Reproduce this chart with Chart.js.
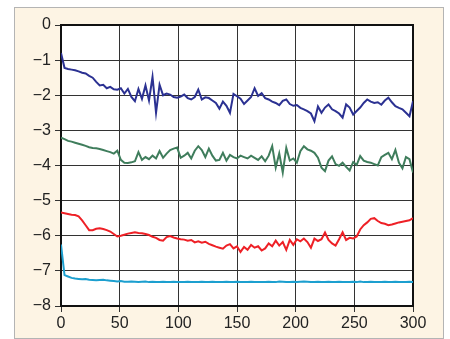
<!DOCTYPE html>
<html>
<head>
<meta charset="utf-8">
<script src="https://cdn.jsdelivr.net/npm/chart.js@4.4.0/dist/chart.umd.min.js"></script>
<style>
  html, body { margin: 0; padding: 0; background: #fff; }
  #panel { position: absolute; left: 14px; top: 7px; width: 430px; height: 332px;
           background: #fdf4e4; border: 1px solid #b4b4b4; box-sizing: border-box; }
  #chart { position: absolute; left: 0; top: 0; }
</style>
</head>
<body>
<div id="panel"></div>
<canvas id="chart" width="450" height="339"></canvas>
<script>
// x positions, every 3 units from 0 to 300
const xs = [];
for (let x = 0; x <= 300; x += 3) xs.push(x);

const yTicks = [0, -1, -2, -3, -4, -5, -6, -7, -8];
const xTicks = [0, 50, 100, 150, 200, 250, 300];

// values
const navySeries = [
  -0.80, -1.22, -1.25, -1.27, -1.29, -1.32, -1.36, -1.38, -1.45, -1.50,
  -1.62, -1.72, -1.70, -1.80, -1.76, -1.83, -1.84, -1.80, -1.95, -1.82,
  -2.05, -2.17, -1.82, -2.10, -1.72, -2.15, -1.48, -2.50, -1.70, -2.00,
  -1.95, -1.98, -2.05, -2.07, -2.04, -1.98, -2.08, -2.12, -2.05, -1.84,
  -2.12, -2.06, -2.08, -2.15, -2.22, -2.38, -2.18, -2.30, -2.50, -1.96,
  -2.03, -2.10, -2.25, -2.15, -2.05, -1.80, -2.02, -1.94, -2.08, -2.12,
  -2.18, -2.22, -2.28, -2.16, -2.12, -2.25, -2.30, -2.28, -2.36, -2.40,
  -2.45, -2.52, -2.74, -2.32, -2.50, -2.35, -2.26, -2.40, -2.45, -2.52,
  -2.64, -2.26, -2.35, -2.55, -2.45, -2.35, -2.22, -2.12, -2.18, -2.22,
  -2.20, -2.27, -2.15, -2.07, -2.20, -2.31, -2.36, -2.40, -2.50, -2.60,
  -2.17
];
const greenSeries = [
  -3.21, -3.25, -3.30, -3.32, -3.35, -3.38, -3.41, -3.44, -3.48, -3.50,
  -3.51, -3.53, -3.56, -3.59, -3.62, -3.66, -3.58, -3.84, -3.92, -3.93,
  -3.91, -3.88, -3.62, -3.84, -3.76, -3.82, -3.72, -3.80, -3.59, -3.78,
  -3.66, -3.56, -3.52, -3.49, -3.78, -3.72, -3.64, -3.80, -3.58, -3.45,
  -3.56, -3.76, -3.52, -3.72, -3.86, -3.84, -3.64, -3.86, -3.70, -3.76,
  -3.80, -3.72, -3.76, -3.80, -3.72, -3.78, -3.84, -3.74, -3.88, -3.72,
  -3.45, -4.06, -3.66, -4.20, -3.50, -3.86, -3.80, -3.92, -3.59, -3.45,
  -3.54, -3.58, -3.64, -3.78, -4.06, -4.16, -3.86, -3.74, -3.96, -4.01,
  -3.92, -4.04, -4.14, -3.90, -3.98, -3.73, -3.86, -3.90, -3.92, -3.96,
  -4.00, -3.76, -3.70, -3.64, -3.82, -3.56, -3.92, -4.08, -3.76, -3.82,
  -4.20
];
const redSeries = [
  -5.34, -5.36, -5.38, -5.40, -5.41, -5.45, -5.56, -5.70, -5.84, -5.84,
  -5.80, -5.79, -5.81, -5.84, -5.88, -5.95, -6.02, -6.00, -5.97, -5.94,
  -5.92, -5.90, -5.92, -5.93, -5.95, -5.98, -6.03, -6.06, -6.12, -6.14,
  -6.04, -6.01, -6.05, -6.08, -6.10, -6.11, -6.14, -6.12, -6.19, -6.16,
  -6.20, -6.17, -6.23, -6.27, -6.31, -6.34, -6.37, -6.28, -6.24, -6.36,
  -6.30, -6.46, -6.32, -6.40, -6.26, -6.34, -6.30, -6.42, -6.36, -6.22,
  -6.30, -6.14, -6.28, -6.18, -6.40, -6.12, -6.26, -6.10, -6.16, -6.08,
  -6.18, -6.34, -6.08, -6.15, -6.10, -5.91, -6.12, -6.22, -6.28, -6.10,
  -5.90, -6.12, -6.06, -6.08, -6.02, -5.82, -5.70, -5.62, -5.52, -5.50,
  -5.58, -5.64, -5.66, -5.70, -5.68, -5.65, -5.62, -5.60, -5.58, -5.56,
  -5.50
];
const cyanSeries = [
  -6.25, -7.12, -7.16, -7.20, -7.22, -7.23, -7.24, -7.23, -7.25, -7.26,
  -7.27, -7.26, -7.25, -7.27, -7.28, -7.29, -7.30, -7.29, -7.31, -7.31,
  -7.30, -7.31, -7.32, -7.31, -7.30, -7.32, -7.31, -7.32, -7.32, -7.31,
  -7.32, -7.32, -7.31, -7.32, -7.32, -7.32, -7.31, -7.32, -7.32, -7.32,
  -7.31, -7.32, -7.32, -7.31, -7.32, -7.32, -7.32, -7.31, -7.32, -7.32,
  -7.31, -7.32, -7.32, -7.32, -7.31, -7.32, -7.32, -7.32, -7.32, -7.31,
  -7.32, -7.32, -7.30, -7.31, -7.32, -7.32, -7.31, -7.32, -7.31, -7.30,
  -7.31, -7.32, -7.32, -7.31, -7.32, -7.32, -7.31, -7.32, -7.32, -7.31,
  -7.32, -7.32, -7.32, -7.31, -7.32, -7.30, -7.32, -7.32, -7.31, -7.32,
  -7.32, -7.32, -7.31, -7.32, -7.32, -7.31, -7.32, -7.32, -7.32, -7.31,
  -7.32
];

const toPoints = ys => xs.map((x, i) => ({ x: x, y: ys[i] }));

const lineStyle = color => ({
  borderColor: color,
  borderWidth: 2,
  pointRadius: 0,
  tension: 0,
  fill: false
});

// white plot area + dark frame
const plotFrame = {
  id: 'plotFrame',
  beforeDraw(chart) {
    const { ctx, chartArea: a } = chart;
    ctx.save();
    ctx.fillStyle = '#fff';
    ctx.fillRect(a.left, a.top, a.right - a.left, a.bottom - a.top);
    ctx.restore();
  },
  beforeDatasetsDraw(chart) {
    const { ctx, chartArea: a } = chart;
    ctx.save();
    ctx.strokeStyle = '#111';
    ctx.lineWidth = 2;
    ctx.strokeRect(a.left, a.top, a.right - a.left, a.bottom - a.top);
    ctx.restore();
  }
};

const fontFamily = "'Liberation Sans Narrow', 'Liberation Sans', Arial, sans-serif";
const minus = v => String(v).replace('-', '\u2212');

new Chart(document.getElementById('chart').getContext('2d'), {
  type: 'line',
  data: {
    datasets: [
      { data: toPoints(navySeries), ...lineStyle('#2b3192') },
      { data: toPoints(greenSeries), ...lineStyle('#3f7d5c') },
      { data: toPoints(redSeries), ...lineStyle('#ee2026') },
      { data: toPoints(cyanSeries), ...lineStyle('#1c9fcf') }
    ]
  },
  options: {
    responsive: false,
    animation: false,
    layout: { padding: { left: 0, right: 37, top: 25, bottom: 0 } },
    plugins: { legend: { display: false }, tooltip: { enabled: false } },
    scales: {
      x: {
        type: 'linear',
        min: 0,
        max: 300,
        afterBuildTicks: s => { s.ticks = xTicks.map(v => ({ value: v })); },
        afterFit: s => { s.height = 33; },
        ticks: { color: '#222', font: { family: fontFamily, size: 16 }, padding: 2, maxRotation: 0, callback: minus },
        grid: { color: '#333', lineWidth: 1, tickLength: 6 },
        border: { color: '#111', width: 2 }
      },
      y: {
        min: -8,
        max: 0,
        afterBuildTicks: s => { s.ticks = yTicks.map(v => ({ value: v })); },
        afterFit: s => { s.width = 61; },
        ticks: { color: '#222', font: { family: fontFamily, size: 16 }, padding: 4, callback: minus },
        grid: { color: '#333', lineWidth: 1, tickLength: 6 },
        border: { color: '#111', width: 2 }
      }
    }
  },
  plugins: [plotFrame]
});
</script>
</body>
</html>
